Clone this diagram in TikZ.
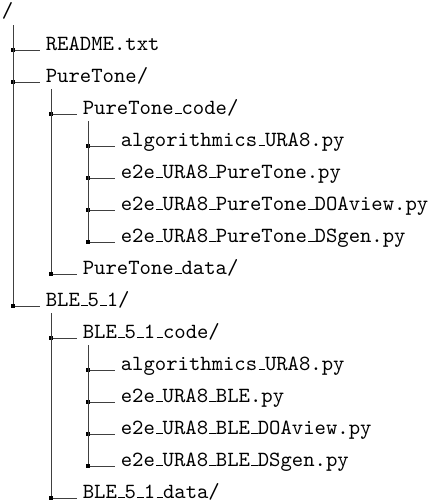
\documentclass[tikz,border=0pt]{standalone}
\usetikzlibrary{calc}
% short underscore, as in OT1 typewriter
\newcommand\usc{\kern.06em\vbox{\hrule width.3em}}
\begin{document}
\begin{tikzpicture}[
    x=0.462pt, y=-0.462pt,
    every node/.style={anchor=base west, inner xsep=2.5pt, inner ysep=0pt, font=\ttfamily},
    branch/.style={draw=black!75, line width=0.45pt},
    knot/.style={fill=black}
  ]
  \useasboundingbox (0,0) rectangle (427,502);

  % entries
  \node (root) at (-4,18) {/};
  \node (readme) at (40,50) {README.txt};
  \node (puretone) at (40,82) {PureTone/};
  \node (ptcode) at (77,114) {PureTone\usc code/};
  \node (ptalg) at (115,146) {algorithmics\usc URA8.py};
  \node (pte2e) at (115,178) {e2e\usc URA8\usc PureTone.py};
  \node (ptdoa) at (115,210) {e2e\usc URA8\usc PureTone\usc DOAview.py};
  \node (ptgen) at (115,242) {e2e\usc URA8\usc PureTone\usc DSgen.py};
  \node (ptdata) at (77,274) {PureTone\usc data/};
  \node (ble) at (40,306) {BLE\usc 5\usc 1/};
  \node (blecode) at (77,338) {BLE\usc 5\usc 1\usc code/};
  \node (blealg) at (115,370) {algorithmics\usc URA8.py};
  \node (blee2e) at (115,402) {e2e\usc URA8\usc BLE.py};
  \node (bledoa) at (115,434) {e2e\usc URA8\usc BLE\usc DOAview.py};
  \node (blegen) at (115,466) {e2e\usc URA8\usc BLE\usc DSgen.py};
  \node (bledata) at (77,498) {BLE\usc 5\usc 1\usc data/};

  % stems
  \coordinate (rootstem) at ($(root.base west)+(17,7)$);
  \coordinate (ptstem) at ($(puretone.base west)+(11,7)$);
  \coordinate (ptcodestem) at ($(ptcode.base west)+(11,7)$);
  \coordinate (blestem) at ($(ble.base west)+(11,7)$);
  \coordinate (blecodestem) at ($(blecode.base west)+(11,7)$);

  % branches
  \foreach \c in {readme, puretone, ble} {
    \draw[branch] (rootstem) |- (\c.base west);
    \fill[knot] (rootstem |- \c.base west) +(-2,-2) rectangle +(2,2);
  }
  \foreach \c in {ptcode, ptdata} {
    \draw[branch] (ptstem) |- (\c.base west);
    \fill[knot] (ptstem |- \c.base west) +(-2,-2) rectangle +(2,2);
  }
  \foreach \c in {ptalg, pte2e, ptdoa, ptgen} {
    \draw[branch] (ptcodestem) |- (\c.base west);
    \fill[knot] (ptcodestem |- \c.base west) +(-2,-2) rectangle +(2,2);
  }
  \foreach \c in {blecode, bledata} {
    \draw[branch] (blestem) |- (\c.base west);
    \fill[knot] (blestem |- \c.base west) +(-2,-2) rectangle +(2,2);
  }
  \foreach \c in {blealg, blee2e, bledoa, blegen} {
    \draw[branch] (blecodestem) |- (\c.base west);
    \fill[knot] (blecodestem |- \c.base west) +(-2,-2) rectangle +(2,2);
  }
\end{tikzpicture}
\end{document}
